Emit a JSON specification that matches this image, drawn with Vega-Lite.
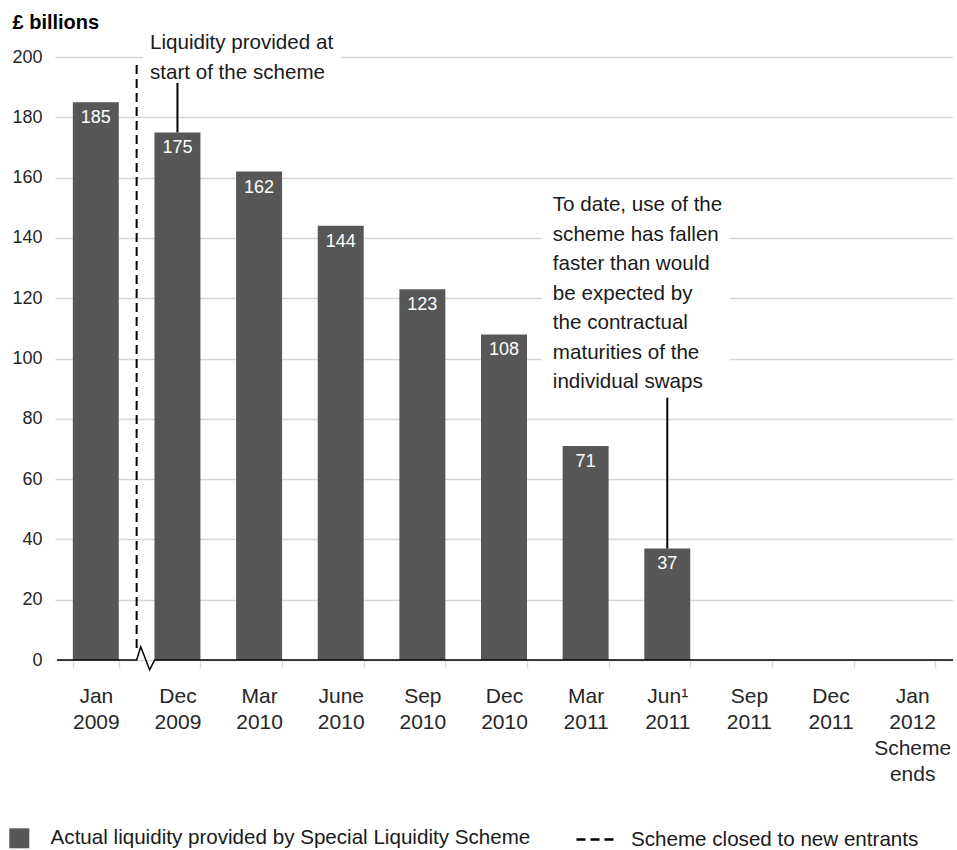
{
  "$schema": "https://vega.github.io/schema/vega-lite/v6.json",
  "width": 898,
  "height": 603,
  "autosize": "none",
  "padding": {"left": 55, "top": 57, "right": 4, "bottom": 190},
  "background": "white",
  "config": {"view": {"stroke": null}, "font": "Liberation Sans", "legend": {"padding": 0}},
  "datasets": {
    "bars": [
      {"period": "Jan 2009", "value": 185, "series": "Actual liquidity provided by Special Liquidity Scheme"},
      {"period": "Dec 2009", "value": 175, "series": "Actual liquidity provided by Special Liquidity Scheme"},
      {"period": "Mar 2010", "value": 162, "series": "Actual liquidity provided by Special Liquidity Scheme"},
      {"period": "June 2010", "value": 144, "series": "Actual liquidity provided by Special Liquidity Scheme"},
      {"period": "Sep 2010", "value": 123, "series": "Actual liquidity provided by Special Liquidity Scheme"},
      {"period": "Dec 2010", "value": 108, "series": "Actual liquidity provided by Special Liquidity Scheme"},
      {"period": "Mar 2011", "value": 71, "series": "Actual liquidity provided by Special Liquidity Scheme"},
      {"period": "Jun¹ 2011", "value": 37, "series": "Actual liquidity provided by Special Liquidity Scheme"}
    ],
    "masks": [
      {"x": 1.077, "x2": 3.514, "value": 196, "value2": 204},
      {"x": 5.963, "x2": 8.265, "value": 95, "value2": 150}
    ],
    "baseline": [
      {"x": 0.025, "value": 0, "order": 1},
      {"x": 1.0, "value": 0, "order": 2},
      {"x": 1.05, "value": 4.4, "order": 3},
      {"x": 1.16, "value": -3.3, "order": 4},
      {"x": 1.22, "value": 0, "order": 5},
      {"x": 11, "value": 0, "order": 6}
    ],
    "closed": [
      {"x": 1.0, "value": 4, "value2": 198, "kind": "Scheme closed to new entrants"}
    ],
    "leaders": [
      {"x": 1.5, "value": 175, "value2": 191.4},
      {"x": 7.5, "value": 37, "value2": 87}
    ],
    "notes": [
      {"x": 1.163, "value": 204.6, "text": "Liquidity provided at\nstart of the scheme"},
      {"x": 6.098, "value": 150.9, "text": "To date, use of the\nscheme has fallen\nfaster than would\nbe expected by\nthe contractual\nmaturities of the\nindividual swaps"}
    ]
  },
  "layer": [
    {
      "data": {"name": "bars"},
      "layer": [
        {
          "mark": {"type": "bar", "color": "#575757"},
          "encoding": {
            "x": {
              "field": "period", "type": "nominal", "sort": null,
              "scale": {"domain": ["Jan 2009", "Dec 2009", "Mar 2010", "June 2010", "Sep 2010", "Dec 2010", "Mar 2011", "Jun¹ 2011", "Sep 2011", "Dec 2011", "Jan 2012 Scheme ends"], "paddingInner": 0.437, "paddingOuter": 0.2185},
              "axis": {"title": null, "domain": false, "ticks": true, "tickBand": "extent", "tickSize": 8, "tickColor": "#dddddd", "tickWidth": 1.5, "labelFontSize": 21, "labelLineHeight": 26, "labelPadding": 17, "labelColor": "#262626", "labelExpr": "split(datum.label, ' ')", "labelAngle": 0, "labelOverlap": false, "labelBound": false, "labelLimit": 0, "grid": false}
            },
            "y": {
              "field": "value", "type": "quantitative",
              "scale": {"domain": [0, 200], "nice": false},
              "axis": {"title": "£ billions", "titleAngle": 0, "titleAlign": "left", "titleBaseline": "middle", "titleX": -43, "titleY": -35, "titleFontSize": 20, "titleFontWeight": "bold", "titleColor": "#000000", "values": [0, 20, 40, 60, 80, 100, 120, 140, 160, 180, 200], "labelFontSize": 18, "labelColor": "#262626", "labelPadding": 13, "ticks": false, "domain": false, "grid": true, "gridColor": "#d6d6d6", "gridWidth": 1.5}
            },
            "color": {
              "field": "series", "type": "nominal",
              "scale": {"range": ["#575757"]},
              "legend": {"title": null, "orient": "none", "legendX": -46, "legendY": 771, "symbolType": "square", "symbolSize": 400, "labelFontSize": 20.6, "labelColor": "#1a1a1a", "labelOffset": 21, "labelLimit": 0, "symbolStrokeWidth": 0}
            }
          }
        },
        {
          "mark": {"type": "text", "dy": 16, "baseline": "middle", "color": "white", "fontSize": 18},
          "encoding": {
            "x": {"field": "period", "type": "nominal", "sort": null},
            "y": {"field": "value", "type": "quantitative", "scale": {"domain": [0, 200], "nice": false}},
            "text": {"field": "value", "type": "quantitative"}
          }
        }
      ]
    },
    {
      "layer": [
        {
          "data": {"name": "masks"},
          "mark": {"type": "rect", "color": "white"},
          "encoding": {
            "x": {"field": "x", "type": "quantitative", "scale": {"domain": [0, 11], "nice": false, "zero": false}, "axis": null},
            "x2": {"field": "x2"},
            "y": {"field": "value", "type": "quantitative", "scale": {"domain": [0, 200], "nice": false}},
            "y2": {"field": "value2"}
          }
        },
        {
          "data": {"name": "baseline"},
          "mark": {"type": "line", "color": "black", "strokeWidth": 1.5},
          "encoding": {
            "x": {"field": "x", "type": "quantitative", "scale": {"domain": [0, 11], "nice": false, "zero": false}, "axis": null},
            "y": {"field": "value", "type": "quantitative", "scale": {"domain": [0, 200], "nice": false}},
            "order": {"field": "order", "type": "quantitative"}
          }
        },
        {
          "data": {"name": "closed"},
          "mark": {"type": "rule", "color": "black", "strokeWidth": 2},
          "encoding": {
            "x": {"field": "x", "type": "quantitative", "scale": {"domain": [0, 11], "nice": false, "zero": false}, "axis": null},
            "y": {"field": "value", "type": "quantitative", "scale": {"domain": [0, 200], "nice": false}},
            "y2": {"field": "value2"},
            "strokeDash": {
              "field": "kind", "type": "nominal",
              "scale": {"range": [[9, 5]]},
              "legend": {"title": null, "orient": "none", "legendX": 520, "legendY": 762.5, "symbolType": "stroke", "symbolSize": 1369, "symbolStrokeColor": "black", "symbolStrokeWidth": 2.5, "labelFontSize": 20.6, "labelColor": "#1a1a1a", "labelOffset": 16, "labelLimit": 0}
            }
          }
        },
        {
          "data": {"name": "leaders"},
          "mark": {"type": "rule", "color": "black", "strokeWidth": 2},
          "encoding": {
            "x": {"field": "x", "type": "quantitative", "scale": {"domain": [0, 11], "nice": false, "zero": false}, "axis": null},
            "y": {"field": "value", "type": "quantitative", "scale": {"domain": [0, 200], "nice": false}},
            "y2": {"field": "value2"}
          }
        },
        {
          "data": {"name": "notes"},
          "mark": {"type": "text", "align": "left", "baseline": "middle", "lineBreak": "\n", "lineHeight": 29.5, "fontSize": 20.6, "color": "#1a1a1a"},
          "encoding": {
            "x": {"field": "x", "type": "quantitative", "scale": {"domain": [0, 11], "nice": false, "zero": false}, "axis": null},
            "y": {"field": "value", "type": "quantitative", "scale": {"domain": [0, 200], "nice": false}},
            "text": {"field": "text", "type": "nominal"}
          }
        }
      ]
    }
  ],
  "resolve": {"scale": {"x": "independent"}, "axis": {"x": "independent"}}
}
